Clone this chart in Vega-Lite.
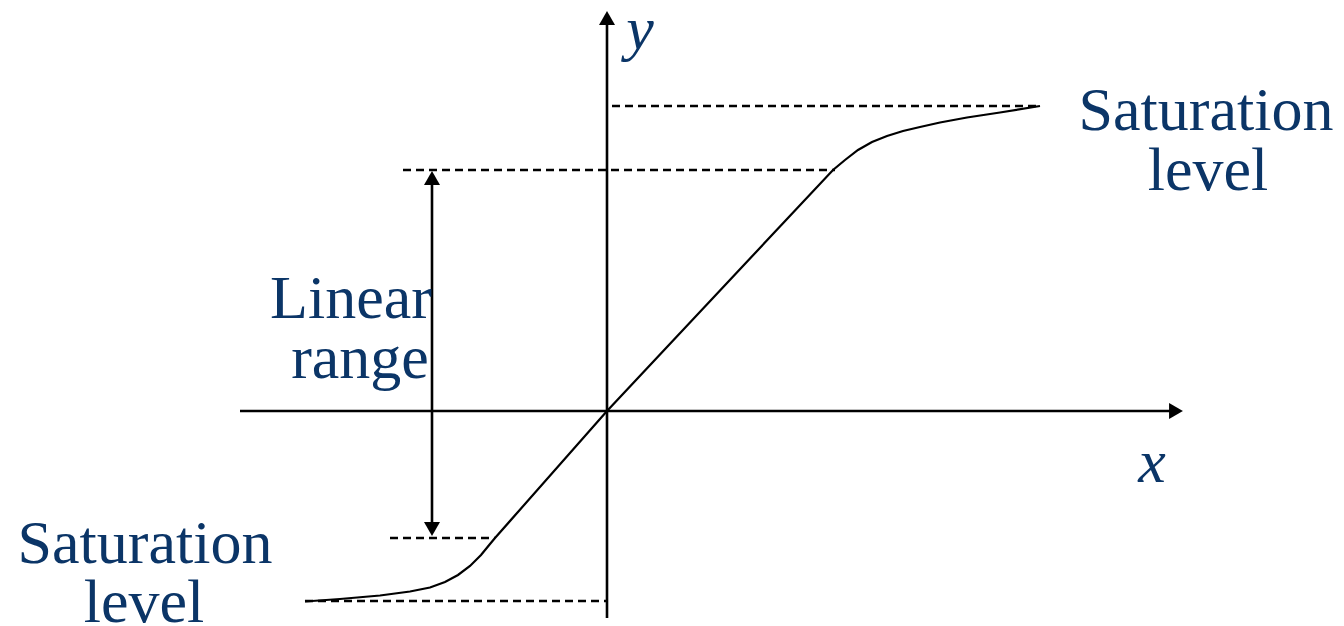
{
  "$schema": "https://vega.github.io/schema/vega-lite/v6.json",
  "width": 1344,
  "height": 626,
  "autosize": {"type": "none"},
  "padding": 0,
  "background": "white",
  "config": {"view": {"stroke": null}},
  "datasets": {
    "curve": [
      {"x": -302, "y": -190.5}, {"x": -267, "y": -188}, {"x": -227, "y": -184.5},
      {"x": -197, "y": -180.5}, {"x": -177, "y": -176.5}, {"x": -162, "y": -171},
      {"x": -149, "y": -164}, {"x": -137, "y": -155}, {"x": -126, "y": -144},
      {"x": -117, "y": -133}, {"x": -112, "y": -127}, {"x": 0, "y": 0},
      {"x": 226, "y": 241}, {"x": 238, "y": 251}, {"x": 251, "y": 261},
      {"x": 265, "y": 269}, {"x": 280, "y": 275}, {"x": 296, "y": 280},
      {"x": 313, "y": 284}, {"x": 333, "y": 288.5}, {"x": 360, "y": 293.5},
      {"x": 393, "y": 298.5}, {"x": 433, "y": 305}
    ],
    "dashes": [
      {"x": 5, "x2": 433, "y": 305},
      {"x": -204, "x2": 228, "y": 241},
      {"x": -217, "x2": -112, "y": -127},
      {"x": -302, "x2": 0, "y": -190}
    ],
    "solid": [
      {"x": -367, "y": 0, "x2": 569, "y2": 0},
      {"x": 0, "y": -207, "x2": 0, "y2": 393},
      {"x": -175, "y": 233, "x2": -175, "y2": -118}
    ],
    "heads": [
      {"x": 0, "y": 393, "shape": "triangle-up"},
      {"x": 569, "y": 0, "shape": "triangle-right"},
      {"x": -175, "y": 233, "shape": "triangle-up"},
      {"x": -175, "y": -118, "shape": "triangle-down"}
    ],
    "labels": [
      {"x": 599, "y": 281, "label": "Saturation"},
      {"x": 601, "y": 221, "label": "level"},
      {"x": -462, "y": -152, "label": "Saturation"},
      {"x": -463, "y": -211, "label": "level"},
      {"x": -256, "y": 93, "label": "Linear"},
      {"x": -247, "y": 33, "label": "range"}
    ],
    "axislabels": [
      {"x": 33, "y": 362, "label": "y"},
      {"x": 545, "y": -71, "label": "x"}
    ]
  },
  "layer": [
    {
      "data": {"name": "dashes"},
      "mark": {"type": "rule", "color": "black", "strokeWidth": 2.4, "strokeDash": [8, 5]},
      "encoding": {
        "x": {"field": "x", "type": "quantitative", "scale": {"domain": [-607, 737], "nice": false, "zero": false}, "axis": null},
        "x2": {"field": "x2"},
        "y": {"field": "y", "type": "quantitative", "scale": {"domain": [-215, 411], "nice": false, "zero": false}, "axis": null}
      }
    },
    {
      "data": {"name": "solid"},
      "mark": {"type": "rule", "color": "black", "strokeWidth": 2.6},
      "encoding": {
        "x": {"field": "x", "type": "quantitative", "axis": null},
        "x2": {"field": "x2"},
        "y": {"field": "y", "type": "quantitative", "axis": null},
        "y2": {"field": "y2"}
      }
    },
    {
      "data": {"name": "curve"},
      "mark": {"type": "line", "color": "black", "strokeWidth": 2.2, "interpolate": "linear"},
      "encoding": {
        "x": {"field": "x", "type": "quantitative", "axis": null},
        "y": {"field": "y", "type": "quantitative", "axis": null}
      }
    },
    {
      "data": {"name": "heads"},
      "mark": {"type": "point", "filled": true, "color": "black", "opacity": 1, "size": 256, "strokeWidth": 0},
      "encoding": {
        "x": {"field": "x", "type": "quantitative", "axis": null},
        "y": {"field": "y", "type": "quantitative", "axis": null},
        "shape": {"field": "shape", "type": "nominal", "scale": null, "legend": null}
      }
    },
    {
      "data": {"name": "labels"},
      "mark": {"type": "text", "font": "Liberation Serif", "fontSize": 62, "color": "#0b3567", "align": "center", "baseline": "alphabetic"},
      "encoding": {
        "x": {"field": "x", "type": "quantitative", "axis": null},
        "y": {"field": "y", "type": "quantitative", "axis": null},
        "text": {"field": "label", "type": "nominal"}
      }
    },
    {
      "data": {"name": "axislabels"},
      "mark": {"type": "text", "font": "Liberation Serif", "fontStyle": "italic", "fontSize": 62, "color": "#0b3567", "align": "center", "baseline": "alphabetic"},
      "encoding": {
        "x": {"field": "x", "type": "quantitative", "axis": null},
        "y": {"field": "y", "type": "quantitative", "axis": null},
        "text": {"field": "label", "type": "nominal"}
      }
    }
  ]
}
